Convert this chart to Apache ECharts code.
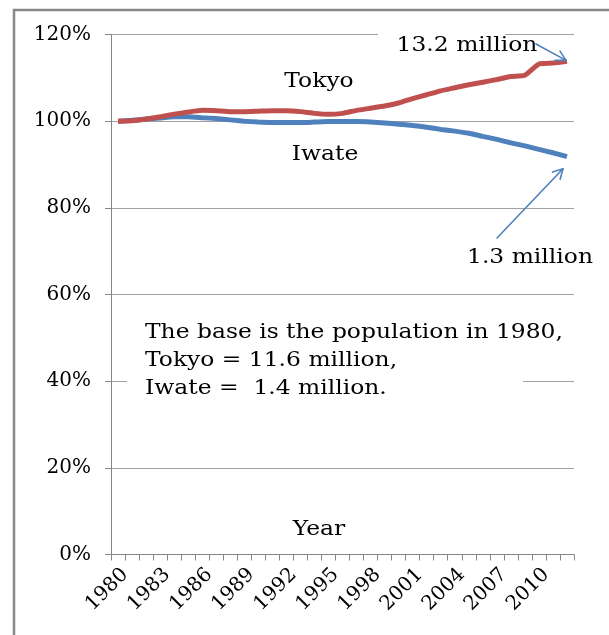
<!DOCTYPE html>
<html>
<head>
<meta charset="utf-8">
<script src="https://cdn.jsdelivr.net/npm/echarts@6/dist/echarts.min.js"></script>
<style>
html,body{margin:0;padding:0;background:#fff;}
#c{width:609px;height:635px;}
</style>
</head>
<body>
<div id="c"></div>
<script>
const years = ['1980','1981','1982','1983','1984','1985','1986','1987','1988','1989',
  '1990','1991','1992','1993','1994','1995','1996','1997','1998','1999',
  '2000','2001','2002','2003','2004','2005','2006','2007','2008','2009',
  '2010','2011','2012'];
const tokyo = [100.0,100.1,100.5,101.0,101.6,102.1,102.5,102.4,102.2,102.2,
  102.3,102.4,102.4,102.2,101.8,101.6,101.8,102.5,103.0,103.5,
  104.2,105.2,106.1,107.0,107.7,108.4,109.0,109.6,110.3,110.6,
  113.2,113.4,113.8];
const iwate = [100.0,100.2,100.5,100.75,101.0,101.0,100.8,100.6,100.3,100.0,
  99.8,99.7,99.7,99.7,99.8,99.9,99.9,99.9,99.8,99.6,
  99.3,99.0,98.6,98.1,97.7,97.2,96.5,95.8,95.0,94.3,
  93.5,92.7,91.8];
const yTicks = [0,20,40,60,80,100,120];
const labels = {
  tokyo: 'Tokyo',
  iwate: 'Iwate',
  xName: 'Year',
  tokyoEnd: '13.2 million',
  iwateEnd: '1.3 million',
  note: ['The base is the population in 1980,', 'Tokyo = 11.6 million,', 'Iwate =  1.4 million.']
};

const FONT = 'DejaVu Serif';
const chart = echarts.init(document.getElementById('c'), null, {renderer:'canvas'});
const option = {
  animation: false,
  backgroundColor: '#fff',
  grid: {left: 111, right: 35, top: 34.5, bottom: 80.5, containLabel: false},
  xAxis: {
    type: 'category',
    data: years,
    boundaryGap: true,
    axisLine: {show: true, lineStyle: {color: '#868686', width: 1}},
    axisTick: {show: true, interval: 0, alignWithLabel: false, length: 6, lineStyle: {color: '#868686'}},
    axisLabel: {interval: 2, rotate: 45, margin: 10, verticalAlign: 'top', color: '#000', fontFamily: FONT, fontSize: 20},
    splitLine: {show: false}
  },
  yAxis: {
    type: 'value',
    min: yTicks[0], max: yTicks[yTicks.length-1], interval: 20,
    axisLine: {show: true, lineStyle: {color: '#868686', width: 1}},
    axisTick: {show: true, length: 6, lineStyle: {color: '#868686'}},
    axisLabel: {formatter: '{value}%', margin: 20, color: '#000', fontFamily: FONT, fontSize: 20},
    splitLine: {show: true, lineStyle: {color: '#a0a0a0', width: 1}}
  },
  series: [
    {name: labels.tokyo, type: 'line', data: tokyo, symbol: 'none', smooth: 0.15,
     lineStyle: {color: '#C0504D', width: 5}, z: 3},
    {name: labels.iwate, type: 'line', data: iwate, symbol: 'none', smooth: 0.15,
     lineStyle: {color: '#4F81BD', width: 5}, z: 2}
  ]
};
chart.setOption(option);

// annotations, positioned against the axes
const tEnd = chart.convertToPixel({gridIndex:0}, [years.length-1, tokyo[tokyo.length-1]]);
const iEnd = chart.convertToPixel({gridIndex:0}, [years.length-1, iwate[iwate.length-1]]);
const p120 = chart.convertToPixel({gridIndex:0}, [0, 120]);
const p40 = chart.convertToPixel({gridIndex:0}, [0, 40]);

function arrow(x1, y1, x2, y2) {
  const ang = Math.atan2(y2 - y1, x2 - x1);
  const L = 11, A = 0.5;
  const h1 = [x2 - L*Math.cos(ang - A), y2 - L*Math.sin(ang - A)];
  const h2 = [x2 - L*Math.cos(ang + A), y2 - L*Math.sin(ang + A)];
  const st = {stroke: '#4F81BD', lineWidth: 1.6, fill: null, lineCap: 'round', lineJoin: 'round'};
  return [
    {type: 'line', z: 10, shape: {x1, y1, x2, y2}, style: st},
    {type: 'polyline', z: 10, shape: {points: [h1, [x2, y2], h2]}, style: st}
  ];
}
const SX = 1.17;
const txt = (text, x, y, align) => ({
  type: 'text', z: 12, x, y, scaleX: SX,
  style: {text, fontFamily: FONT, fontSize: 20, fill: '#000', align: align || 'center', verticalAlign: 'middle'}
});

const graphics = [
  // outer frame
  {type: 'rect', z: 20, shape: {x: 14, y: 10, width: 640, height: 660},
   style: {fill: null, stroke: '#888', lineWidth: 2.5}},
  // white text-box backgrounds covering gridlines
  {type: 'rect', z: 1, shape: {x: 378, y: p120[1] - 6, width: 127, height: 22}, style: {fill: '#fff'}},
  {type: 'rect', z: 1, shape: {x: 127, y: p40[1] - 60, width: 396, height: 80}, style: {fill: '#fff'}},
  txt(labels.tokyo, 319, 82),
  txt(labels.iwate, 325, 155),
  txt(labels.xName, 319, 530),
  txt(labels.tokyoEnd, 467, 46),
  txt(labels.iwateEnd, 530, 258),
  txt(labels.note[0], 145, 333, 'left'),
  txt(labels.note[1], 145, 361, 'left'),
  txt(labels.note[2], 145, 389, 'left')
].concat(
  arrow(536, 44, tEnd[0] - 1, tEnd[1] - 1),
  arrow(497, 238, iEnd[0] - 4, iEnd[1] + 12)
);
chart.setOption({graphic: graphics});
</script>
</body>
</html>
